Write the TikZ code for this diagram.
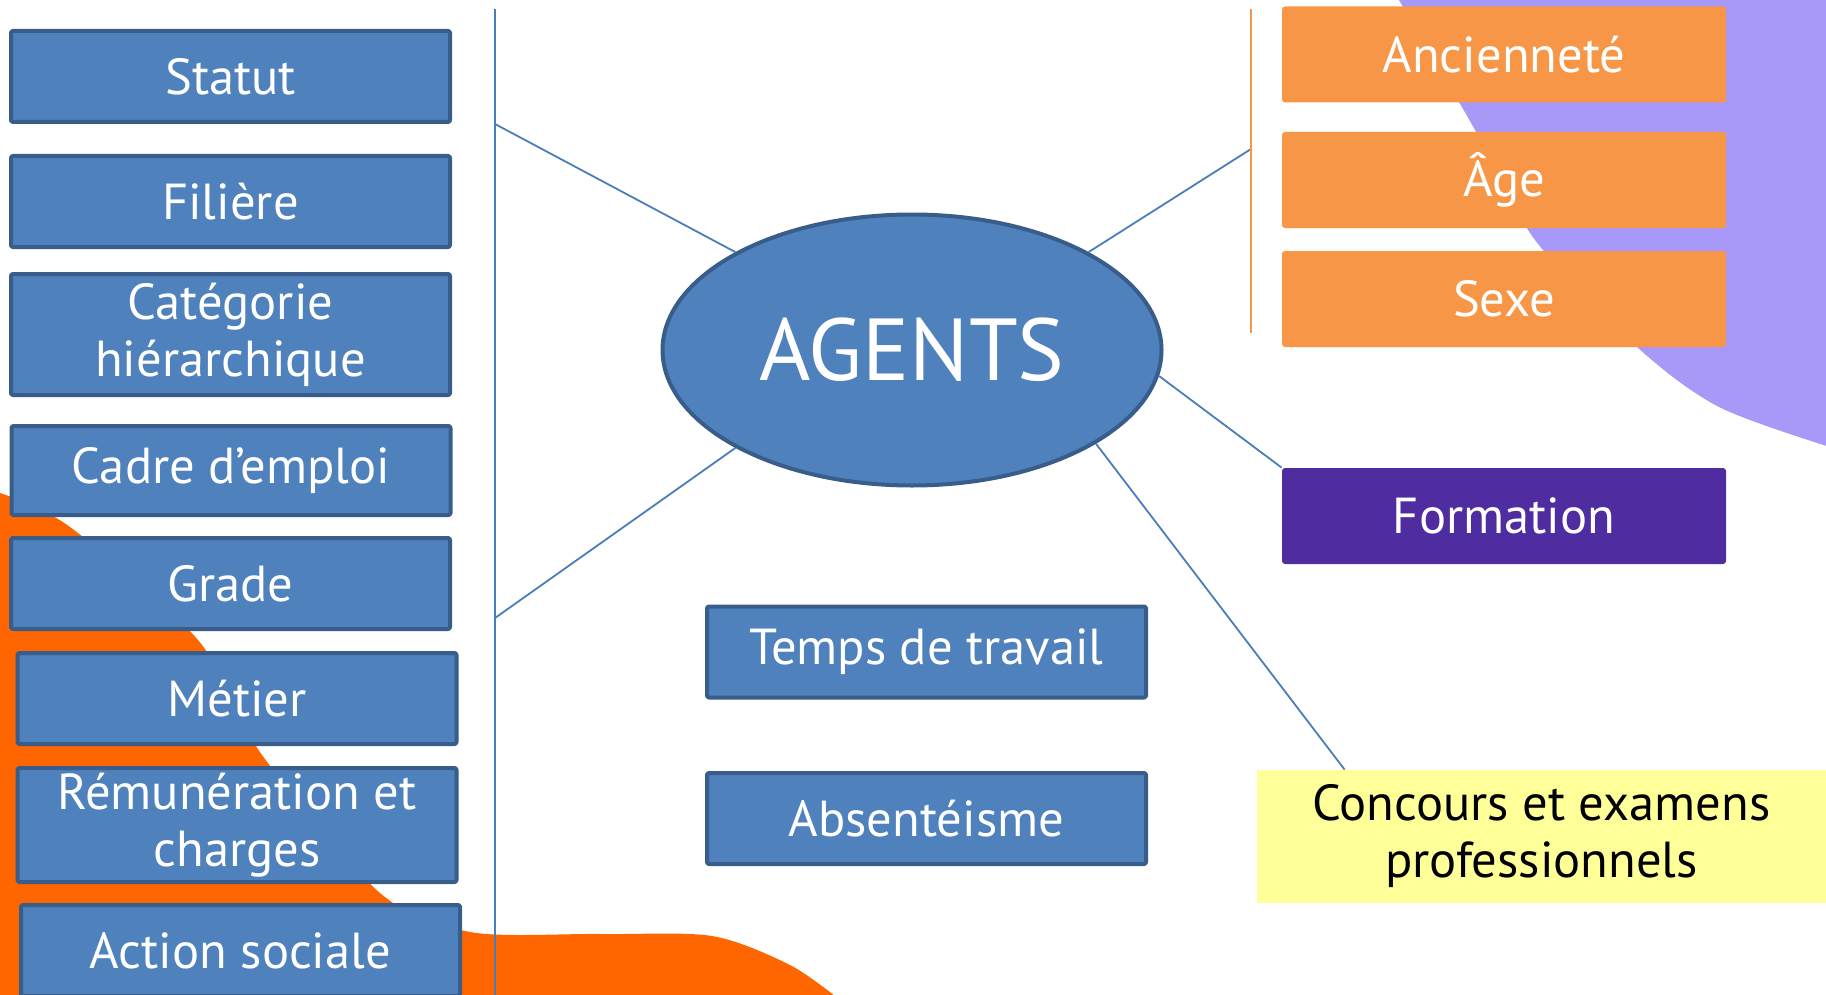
\documentclass[tikz,border=0pt]{standalone}
\usepackage{fontspec}
\setmainfont{PT Sans}
\definecolor{boxblue}{HTML}{4F81BD}
\definecolor{boxedge}{HTML}{385D8A}
\definecolor{linkblue}{HTML}{4A7EBB}
\definecolor{agorange}{HTML}{F79646}
\definecolor{agpurple}{HTML}{4F2DA1}
\definecolor{agyellow}{HTML}{FFFF99}
\definecolor{blobred}{HTML}{FF6600}
\definecolor{bloblilac}{HTML}{A899F8}
\usetikzlibrary{
  shapes.geometric
}
\tikzset{
  every picture/.style={line join=round},
  txt/.style={font=\fontsize{25.3}{28.5}\selectfont, text=white, align=center, inner sep=0pt},
  box/.style={
    txt,
    draw=boxedge,
    fill=boxblue,
    line width=2pt,
    rounded corners=1pt,
    minimum width=219.5pt,
    minimum height=45.5pt
  },
  obox/.style={txt, fill=agorange, rounded corners=1.5pt, minimum width=222pt, minimum height=48pt},
  pbox/.style={obox, fill=agpurple},
  ybox/.style={txt, text=black, fill=agyellow, minimum width=284.5pt, minimum height=66.5pt},
  hub/.style={
    ellipse,
    draw=boxedge,
    fill=boxblue,
    line width=2pt,
    inner sep=0pt,
    minimum width=249.5pt,
    minimum height=135.5pt,
    font=\fontsize{44}{48}\selectfont,
    text=white
  },
  link/.style={draw=linkblue, line width=0.9pt},
  olink/.style={draw=agorange, line width=0.9pt}
}

\begin{document}
\begin{tikzpicture}[x=0.5pt, y=-0.5pt]
  \clip (0,0) rectangle (1826,995);
  % Background blobs
  \fill[blobred] plot[smooth, tension=0.5] coordinates
    {(0,493) (70,527) (198,640) (262,755) (380,893) (470,932) (600,934) (712,936) (790,965) (840,1000)}
    -- (0,1000) -- cycle;
  \fill[bloblilac] plot[smooth, tension=0.5] coordinates
    {(1396,-5) (1440,70) (1475,130) (1535,240) (1637,347) (1719,407) (1830,447)}
    -- (1830,-5) -- cycle;

  % Left column
  \node[box] (statut) at (230.5,76.5) {Statut};
  \node[box] (filiere) at (230.5,201.5) {Filière};
  \node[box, minimum height=60.5pt] (categorie) at (230.5,334.5) {Catégorie\\hiérarchique};
  \node[box, minimum height=44.5pt] (cadre) at (231,470.5) {Cadre d’emploi};
  \node[box] (grade) at (230.5,583.5) {Grade};
  \node[box] (metier) at (237,698.5) {Métier};
  \node[box, minimum height=57pt] (remun) at (237,825) {Rémunération et\\charges};
  \node[box] (action) at (240.5,950.5) {Action sociale};

  % Centre
  \node[hub] (agents) at (912,350) {AGENTS};
  \node[box] (temps) at (926.5,652) {Temps de travail};
  \node[box] (absent) at (926.5,818.5) {Absentéisme};

  % Right column
  \node[obox] (anciennete) at (1504,54.5) {Ancienneté};
  \node[obox] (age) at (1504,180) {Âge};
  \node[obox] (sexe) at (1504,299) {Sexe};
  \node[pbox] (formation) at (1504,516) {Formation};
  \node[ybox] (concours) at (1541.5,836.5) {Concours et examens\\professionnels};

  % Connectors
  \coordinate (vtop) at (495,9);
  \coordinate (vbot) at (495,995);
  \coordinate (vup) at (495,124);
  \coordinate (vlow) at (495,618);
  \coordinate (otop) at (1251,9);
  \coordinate (obot) at (1251,333);
  \coordinate (omid) at (1251,149);
  \draw[link] (vtop) -- (vbot);
  \draw[link] (vup) -- (agents.151);
  \draw[link] (vlow) -- (agents.209);
  \draw[link] (agents.29) -- (omid);
  \draw[link] (agents.354) -- (formation.north west);
  \draw[link] (agents.333) -- ([xshift=44pt]concours.north west);
  \draw[olink] (otop) -- (obot);
\end{tikzpicture}
\end{document}
